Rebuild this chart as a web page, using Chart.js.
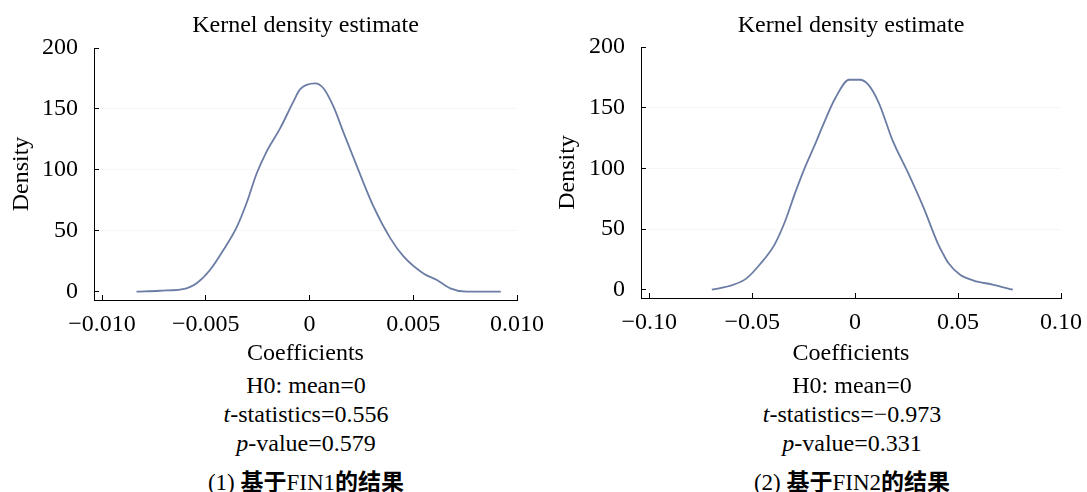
<!DOCTYPE html>
<html>
<head>
<meta charset="utf-8">
<script src="https://cdn.jsdelivr.net/npm/chart.js@4.4.1/dist/chart.umd.min.js"></script>
<style>
  html, body { margin: 0; padding: 0; background: #fff; }
  body {
    width: 1087px; height: 492px; position: relative; overflow: hidden;
    font-family: "Liberation Serif", "Times New Roman", serif; color: #000;
  }
  canvas { position: absolute; top: 0; }
  #kde1 { left: 0; }
  #kde2 { left: 545px; }
  .line {
    position: absolute; width: 400px; text-align: center; white-space: nowrap;
    font-size: 24px; line-height: 28px;
  }
  .left { left: 106px; }
  .right { left: 652px; }
  .caption { font-size: 23px; line-height: 26px; }
  .caption b { font-family: "Noto Sans CJK SC", sans-serif; font-weight: 700; }
</style>
</head>
<body>
<canvas id="kde1" width="559" height="370"></canvas>
<canvas id="kde2" width="552" height="370"></canvas>

<div class="line left" style="top:371px">H0: mean=0</div>
<div class="line left" style="top:400px"><i>t</i>-statistics=0.556</div>
<div class="line left" style="top:429px"><i>p</i>-value=0.579</div>
<div class="line caption left" style="top:467px">(1) <b>基于</b>FIN1<b>的结果</b></div>

<div class="line right" style="top:371px">H0: mean=0</div>
<div class="line right" style="top:400px"><i>t</i>-statistics=−0.973</div>
<div class="line right" style="top:429px"><i>p</i>-value=0.331</div>
<div class="line caption right" style="top:467px">(2) <b>基于</b>FIN2<b>的结果</b></div>

<script>
// (1) FIN1 kernel density
const coef1X = [-0.00834, -0.00722, -0.00593, -0.00544, -0.0048, -0.00416, -0.00351,
  -0.00303, -0.00255, -0.00207, -0.00142, -0.00078, -0.00046, 0.00027, 0.00067, 0.00115,
  0.00163, 0.00228, 0.00308, 0.00389, 0.00453, 0.00549, 0.00614, 0.00678, 0.00759, 0.00922];
const density1Y = [0, 0.8, 2.8, 6.9, 17.8, 34, 53, 73, 97, 115, 134, 156, 166, 171, 167, 152,
  131, 103, 70, 44, 29, 15, 9.6, 2.8, 0, 0];

// (2) FIN2 kernel density
const coef2X = [-0.0696, -0.0591, -0.0526, -0.0462, -0.0392, -0.0341, -0.0291, -0.0248,
  -0.0189, -0.0155, -0.0096, -0.0029, 0.0022, 0.0064, 0.0115, 0.0182, 0.0258, 0.0334,
  0.0402, 0.0429, 0.0453, 0.051, 0.0575, 0.0672, 0.0766];
const density2Y = [0, 4.1, 9.6, 21, 37, 56, 80, 99, 122, 136, 158, 173, 173, 169, 154, 123,
  96, 67, 38, 29, 22, 12.3, 7.6, 4.1, 0];

const xTicks1 = [-0.01, -0.005, 0, 0.005, 0.01];
const xLabels1 = ["−0.010", "−0.005", "0", "0.005", "0.010"];
const xTicks2 = [-0.1, -0.05, 0, 0.05, 0.1];
const xLabels2 = ["−0.10", "−0.05", "0", "0.05", "0.10"];
const yTicks = [0, 50, 100, 150, 200];
const yLabels = ["0", "50", "100", "150", "200"];

const LINE_COLOR = "#6b7da4";
Chart.defaults.font.family = '"Liberation Serif", "Times New Roman", serif';
Chart.defaults.font.size = 24;
Chart.defaults.color = "#000";

function makeKdeChart(id, xs, ys, xTicks, xLabels, g) {
  const ctx = document.getElementById(id).getContext("2d");
  return new Chart(ctx, {
    type: "line",
    data: {
      datasets: [
        {
          data: xs.map((x, i) => ({ x: x, y: ys[i] })),
          xAxisID: "x",
          yAxisID: "y",
          borderColor: LINE_COLOR,
          borderWidth: 1.8,
          pointRadius: 0,
          cubicInterpolationMode: "monotone",
          fill: false,
        },
      ],
    },
    options: {
      responsive: false,
      animation: false,
      layout: { padding: { left: 0, right: g.padRight, top: 0, bottom: 0 } },
      plugins: {
        legend: { display: false },
        tooltip: { enabled: false },
        title: { display: false },
      },
      scales: {
        // top axis only carries the title so it centres over the plot area
        top: {
          type: "linear",
          axis: "x",
          position: "top",
          afterFit: (s) => { s.height = g.topHeight; },
          ticks: { display: false },
          grid: { display: false },
          border: { display: false },
          title: {
            display: true,
            text: "Kernel density estimate",
            color: "#000",
            padding: { top: 11, bottom: 0 },
          },
        },
        x: {
          type: "linear",
          position: "bottom",
          min: g.xMin,
          max: g.xMax,
          afterBuildTicks: (s) => { s.ticks = xTicks.map((v) => ({ value: v })); },
          afterFit: (s) => { s.height = g.xAxisHeight; },
          ticks: {
            padding: 15,
            color: "#000",
            maxRotation: 0,
            autoSkip: false,
            callback: (v, i) => xLabels[i],
          },
          grid: { drawOnChartArea: false, tickLength: -5, tickColor: "#000" },
          border: { color: "#000", width: 1 },
          title: {
            display: true,
            text: "Coefficients",
            color: "#000",
            padding: { top: 0, bottom: 2 },
          },
        },
        y: {
          type: "linear",
          min: -6.8,
          max: 200,
          afterBuildTicks: (s) => { s.ticks = yTicks.map((v) => ({ value: v })); },
          afterFit: (s) => { s.width = g.yAxisWidth; },
          ticks: {
            padding: 21,
            color: "#000",
            callback: (v, i) => yLabels[i],
          },
          grid: {
            tickLength: -5,
            tickColor: "#000",
            color: (c) =>
              c.tick && c.tick.value > 0 && c.tick.value < 200
                ? "rgba(0,0,0,0.03)"
                : "rgba(0,0,0,0)",
          },
          border: { color: "#000", width: 1 },
          title: {
            display: true,
            text: "Density",
            color: "#000",
            padding: { top: g.densityPad, bottom: 0 },
          },
        },
      },
    },
  });
}

makeKdeChart("kde1", coef1X, density1Y, xTicks1, xLabels1, {
  xMin: -0.01039, xMax: 0.01,
  padRight: 42, topHeight: 48, xAxisHeight: 70, yAxisWidth: 94, densityPad: 7,
});
makeKdeChart("kde2", coef2X, density2Y, xTicks2, xLabels2, {
  xMin: -0.104, xMax: 0.1,
  padRight: 36, topHeight: 47, xAxisHeight: 72, yAxisWidth: 96, densityPad: 8,
});
</script>
</body>
</html>
